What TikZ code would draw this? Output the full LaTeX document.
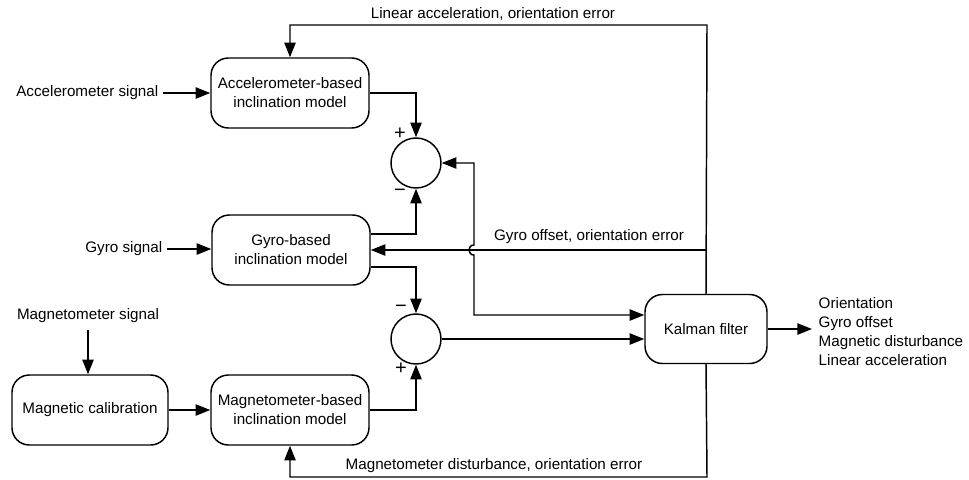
\documentclass[tikz,border=0pt]{standalone}
\usepackage{fontspec}
\setmainfont{Liberation Sans}
\usetikzlibrary{arrows.meta,calc}
\begin{document}
\begin{tikzpicture}[x=0.75pt,y=-0.75pt,
  font=\fontsize{11.4}{14.3}\selectfont,
  line width=1.1pt,
  >={Triangle[length=11pt,width=8.5pt]},
  blk/.style={draw,rounded corners=13pt,minimum height=52.5pt,align=center,inner sep=0pt},
  sumc/.style={draw,circle,minimum size=37.5pt,inner sep=0pt},
  lbl/.style={inner sep=0pt,align=center},
  sgn/.style={inner sep=0pt,font=\fontsize{15}{15}\selectfont}]
\useasboundingbox (0,0) rectangle (969,479);
% blocks
\node[blk,minimum width=118.5pt] (acc) at (290,93) {Accelerometer-based\\inclination model};
\node[blk,minimum width=118.5pt] (gyro) at (291,250) {Gyro-based\\inclination model};
\node[blk,minimum width=118.5pt] (mag) at (290,410) {Magnetometer-based\\inclination model};
\node[blk,minimum width=117pt] (cal) at (90,410) {Magnetic calibration};
\node[blk,minimum width=91.5pt,minimum height=51.75pt] (kal) at (706,329) {Kalman filter};
\node[sumc] (c1) at (416,163) {};
\node[sumc] (c2) at (416,339) {};
% inputs
\node[lbl,anchor=east,inner sep=3pt] (accsig) at (163,93) {Accelerometer signal};
\node[lbl,anchor=east,inner sep=3pt] (gyrosig) at (167,249) {Gyro signal};
\node[lbl] (magsig) at (88,316) {Magnetometer signal};
\node[lbl,anchor=west,align=left] (out) at (818,331.5) {Orientation\\Gyro offset\\Magnetic disturbance\\Linear acceleration};
% signs
\node[sgn] (p1) at (400,134) {+};
\node[sgn] (m1) at (400,193) {−};
\node[sgn] (m2) at (401,309) {−};
\node[sgn] (p2) at (401,369) {+};
% coordinates
\coordinate (topR) at (707,25);
\coordinate (botR) at (707,477);
\coordinate (gyR) at (707,250);
\coordinate (vx1) at (474,163);
\coordinate (hopA) at (474,245);
\coordinate (hopB) at (474,255);
\coordinate (vx2) at (474,315);
% input arrows
\draw[->] (accsig.east) -- (acc.west |- accsig.east);
\draw[->] (gyrosig.east) -- (gyro.west |- gyrosig.east);
\draw[->] (88,330) coordinate (ms) -- (cal.north -| ms);
\draw[->] (cal.east) -- (mag.west);
% to summing junctions
\draw[->] (acc.east) -| (c1.north);
\draw[->] ($(gyro.east)+(0,-16)$) -| (c1.south);
\draw[->] ($(gyro.east)+(0,17)$) -| (c2.north);
\draw[->] (mag.east) -| (c2.south);
% to Kalman
\draw[->] (c2.east) -- (c2.east -| kal.west);
\draw[<->] (c1.east) -- (vx1) -- (hopA) .. controls (467.3,245) and (467.3,255) .. (hopB) -- (vx2) -- (vx2 -| kal.west);
% feedback
\draw[->] (kal.north) -- (topR) -| (acc.north);
\draw[->] (gyR) -- (gyR -| gyro.east);
\draw[->] (kal.south) -- (botR) -| (mag.south);
\draw[->] (kal.east) -- (812,329);
% labels
\node[lbl] (l1) at (493,14) {Linear acceleration, orientation error};
\node[lbl] (l2) at (589,237) {Gyro offset, orientation error};
\node[lbl] (l3) at (494,466) {Magnetometer disturbance, orientation error};
\end{tikzpicture}
\end{document}
